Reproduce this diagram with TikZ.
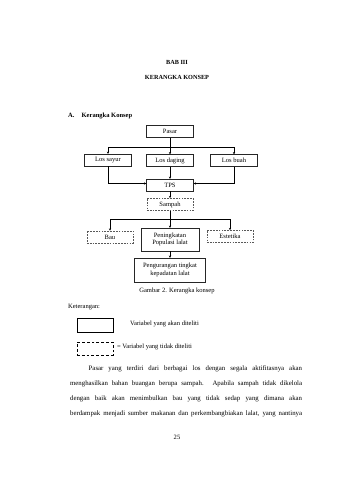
\documentclass[tikz,border=0pt]{standalone}
\usepackage{fontspec}
\setmainfont{Liberation Serif}
\usetikzlibrary{arrows.meta}

\begin{document}
\begin{tikzpicture}[x=0.0619cm, y=-0.0619cm,
    font=\fontsize{11.5}{13.5}\selectfont,
    solidbox/.style={draw=black!85, line width=0.7pt, minimum width=2.91cm, minimum height=0.74cm, inner sep=1pt},
    dashbox/.style={draw=black!65, line width=0.7pt, densely dashed, minimum width=2.85cm, minimum height=0.76cm, inner sep=1pt},
    conn/.style={line width=1.3pt},
    arr/.style={line width=1.3pt, -{Stealth[length=4pt,width=4pt]}}]
    % Page
    \fill[white] (0,0) rectangle (339,480);
    \useasboundingbox (0,0) rectangle (339,480);

    % Headings
    \node[font=\fontsize{11}{13}\selectfont\bfseries] (bab) at (177,62) {BAB III};
    \node[font=\fontsize{11}{13}\selectfont\bfseries] (judul) at (177,77) {KERANGKA KONSEP};
    \node[anchor=west, inner sep=0pt, font=\fontsize{11.5}{13}\selectfont\bfseries] (subjudul) at (68,116) {A.\hspace{1.1em}Kerangka Konsep};

    % Boxes of the scheme
    \node[solidbox] (pasar) at (170,131.5) {Pasar};
    \node[solidbox] (lossayur) at (108,160) {Los sayur};
    \node[solidbox] (losdaging) at (170,160.5) {Los daging};
    \node[solidbox] (losbuah) at (234,160.5) {Los buah};
    \node[solidbox] (tps) at (170,185) {TPS};
    \node[dashbox] (sampah) at (170,204.5) {Sampah};
    \node[dashbox] (bau) at (110,237) {Bau};
    \node[solidbox, minimum width=3.59cm, minimum height=1.42cm, align=center] (peningkatan) at (170,239.5) {Peningkatan\\Populasi lalat};
    \node[dashbox] (estetika) at (230,236.5) {Estetika};
    \node[solidbox, minimum width=4.39cm, minimum height=1.49cm, align=center] (pengurangan) at (170,270) {Pengurangan tingkat\\kepadatan lalat};

    % Bus lines
    \coordinate (busatas) at (0,147);
    \coordinate (busbawah) at (0,219);
    \coordinate (belok) at (0,183.5);

    % Connectors
    \draw[conn] (lossayur.north |- busatas) -- (losbuah.north |- busatas);
    \draw[arr] (pasar) -- (losdaging);
    \draw[arr] (lossayur.north |- busatas) -- (lossayur.north);
    \draw[arr] (losbuah.north |- busatas) -- (losbuah.north);
    \draw[arr] (losdaging) -- (tps);
    \draw[arr] (lossayur.south) -- (lossayur.south |- belok) -- (tps.west |- belok);
    \draw[arr] (losbuah.south) -- (losbuah.south |- belok) -- (tps.east |- belok);
    \draw[arr] (tps) -- (sampah);
    \draw[conn] (bau.north |- busbawah) -- (estetika.north |- busbawah);
    \draw[arr] (sampah) -- (peningkatan);
    \draw[arr] (bau.north |- busbawah) -- (bau.north);
    \draw[arr] (estetika.north |- busbawah) -- (estetika.north);
    \draw[arr] (peningkatan) -- (pengurangan);

    % Caption
    \node (gambar) at (177,291) {Gambar 2. Kerangka konsep};

    % Legend
    \node[anchor=west, inner sep=0pt] (keterangan) at (68,307) {Keterangan:};
    \node[draw, line width=0.9pt, minimum width=2.23cm, minimum height=0.87cm] (legsolid) at (95,325) {};
    \node[anchor=west, inner sep=0pt] (teksolid) at (130,324) {Variabel yang akan diteliti};
    \node[draw, line width=1.2pt, dash pattern=on 5pt off 3.5pt, minimum width=2.23cm, minimum height=0.8cm] (legdash) at (95,348.5) {};
    \node[anchor=west, inner sep=0pt] (tekdash) at (117,347) {= Variabel yang tidak diteliti};

    % Paragraph
    \node[anchor=north west, inner sep=0pt, text width=14.36cm, align=justify,
          font=\fontsize{12}{26.4}\selectfont] (paragraf) at (70,365.5)
        {\hspace*{1.15cm}Pasar yang terdiri dari berbagai los dengan segala aktifitasnya akan\linebreak
         menghasilkan bahan buangan berupa sampah. Apabila sampah tidak dikelola\linebreak
         dengan baik akan menimbulkan bau yang tidak sedap yang dimana akan\linebreak
         berdampak menjadi sumber makanan dan perkembangbiakan lalat, yang nantinya\parfillskip=0pt\par};

    % Page number
    \node (halaman) at (177,437) {25};
\end{tikzpicture}
\end{document}
